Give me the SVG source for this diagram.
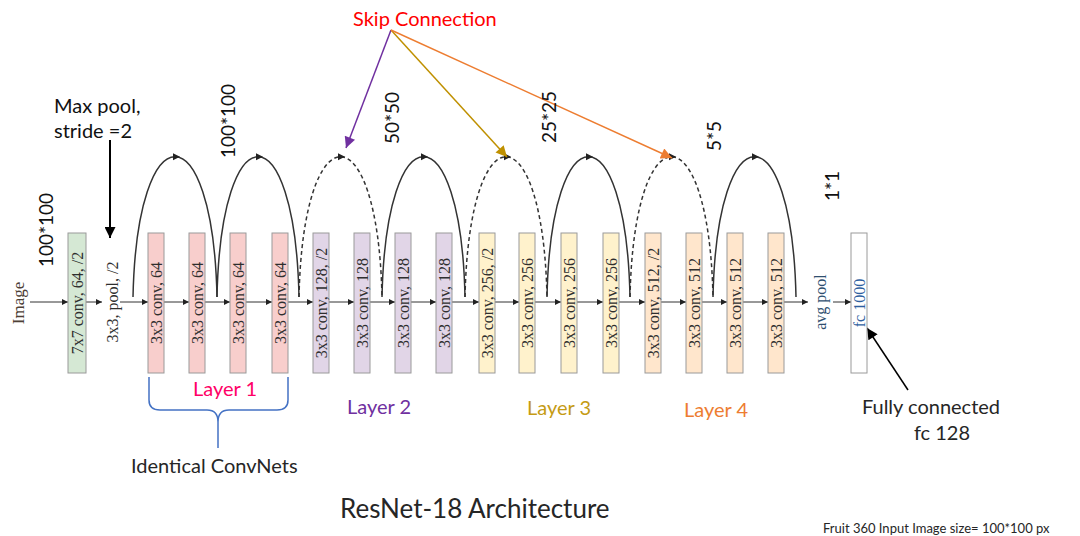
<svg xmlns="http://www.w3.org/2000/svg" width="1080" height="536" viewBox="0 0 1080 536">
<style>
.box{stroke:#9a9a9a;stroke-width:1}
.g{fill:#d5e8d4}.p{fill:#f8cecc}.u{fill:#e1d5e7}.y{fill:#fff2cc}.o{fill:#ffe6cc}.w{fill:#ffffff}
.bl{font-family:"Liberation Serif",serif;font-size:16px;fill:#2e2e2e;text-anchor:middle;dominant-baseline:central}
.sans{font-family:Lato,"Open Sans",sans-serif}
.dim{font-family:Lato,"Open Sans",sans-serif;font-size:19px;fill:#111;text-anchor:middle;dominant-baseline:central}
.flow{stroke:#333;stroke-width:1;fill:none;marker-end:url(#ah)}
.arc{stroke:#333;stroke-width:1.5;fill:none}
.dash{stroke-dasharray:4 3}
.tip{fill:#222}
</style>
<defs>
<marker id="ah" viewBox="0 0 10 10" refX="10" refY="5" markerWidth="7" markerHeight="6" markerUnits="userSpaceOnUse" orient="auto"><path d="M0,0 L10,5 L0,10 z" fill="#222"/></marker>
<marker id="ahK" viewBox="0 0 10 10" refX="10" refY="5" markerWidth="12" markerHeight="11" markerUnits="userSpaceOnUse" orient="auto"><path d="M0,0 L10,5 L0,10 z" fill="#000"/></marker>
<marker id="ahP" viewBox="0 0 10 10" refX="10" refY="5" markerWidth="12" markerHeight="11" markerUnits="userSpaceOnUse" orient="auto"><path d="M0,0 L10,5 L0,10 z" fill="#7030a0"/></marker>
<marker id="ahY" viewBox="0 0 10 10" refX="10" refY="5" markerWidth="12" markerHeight="11" markerUnits="userSpaceOnUse" orient="auto"><path d="M0,0 L10,5 L0,10 z" fill="#bf9000"/></marker>
<marker id="ahO" viewBox="0 0 10 10" refX="10" refY="5" markerWidth="12" markerHeight="11" markerUnits="userSpaceOnUse" orient="auto"><path d="M0,0 L10,5 L0,10 z" fill="#ed7d31"/></marker>
</defs>
<rect width="1080" height="536" fill="#ffffff"/>

<g id="connectors">
<path class="flow" d="M30,302 H68"/>
<path class="flow" d="M86,302 H102"/>
<path class="flow" d="M120,302 H148"/>
<path class="flow" d="M164,302 H189"/>
<path class="flow" d="M205,302 H230"/>
<path class="flow" d="M246,302 H272"/>
<path class="flow" d="M288,302 H313"/>
<path class="flow" d="M329,302 H354"/>
<path class="flow" d="M370,302 H395"/>
<path class="flow" d="M411,302 H436"/>
<path class="flow" d="M452,302 H479"/>
<path class="flow" d="M495,302 H519"/>
<path class="flow" d="M535,302 H561"/>
<path class="flow" d="M577,302 H603"/>
<path class="flow" d="M619,302 H645"/>
<path class="flow" d="M661,302 H686"/>
<path class="flow" d="M702,302 H727"/>
<path class="flow" d="M743,302 H768"/>
<path class="flow" d="M784,302 H808"/>
<path class="flow" d="M833,302 H851"/>

<path class="arc" d="M133,297 C137,110 213,110 217,297"/>
<path class="arc" d="M217,297 C221,110 295,110 299,297"/>
<path class="arc dash" d="M299,297 C303,110 378,110 382,297"/>
<path class="arc" d="M382,297 C386,110 461,110 465,297"/>
<path class="arc dash" d="M465,297 C469,110 543,110 547,297"/>
<path class="arc" d="M547,297 C551,110 626,110 630,297"/>
<path class="arc dash" d="M630,297 C634,110 709,110 713,297"/>
<path class="arc" d="M713,297 C717,110 792,110 796,297"/>

<path class="tip" d="M180,156.8 l-7,-3.5 v7 z"/>
<path class="tip" d="M263,156.8 l-7,-3.5 v7 z"/>
<path class="tip" d="M345,156.8 l-7,-3.5 v7 z"/>
<path class="tip" d="M428,156.8 l-7,-3.5 v7 z"/>
<path class="tip" d="M511,156.8 l-7,-3.5 v7 z"/>
<path class="tip" d="M593,156.8 l-7,-3.5 v7 z"/>
<path class="tip" d="M676,156.8 l-7,-3.5 v7 z"/>
<path class="tip" d="M759,156.8 l-7,-3.5 v7 z"/>

<path d="M391,30 L346,148" stroke="#7030a0" stroke-width="1.5" fill="none" marker-end="url(#ahP)"/>
<path d="M391,30 L507,157" stroke="#bf9000" stroke-width="1.5" fill="none" marker-end="url(#ahY)"/>
<path d="M391,30 L672,158" stroke="#ed7d31" stroke-width="1.5" fill="none" marker-end="url(#ahO)"/>

<path d="M110,140 L110,238" stroke="#000" stroke-width="2" fill="none" marker-end="url(#ahK)"/>
<path d="M908,390 L867,328" stroke="#000" stroke-width="1.5" fill="none" marker-end="url(#ahK)"/>

<path d="M149,377 L149,400 Q149,410 160,410 L207,410 Q218,410 218,422 L218,448 M218,422 Q218,410 229,410 L277,410 Q288,410 288,400 L288,377" stroke="#4472c4" stroke-width="1.5" fill="none"/>
</g>

<g id="image-label"><text class="bl" transform="translate(18,303) rotate(-90)" style="fill:#4d4036;font-size:17px">Image</text></g>

<g id="conv1"><rect class="box g" x="68" y="233" width="18" height="140"/><text class="bl" transform="translate(77,303) rotate(-90)">7x7 conv, 64, /2</text></g>
<g id="pool"><text class="bl" transform="translate(112,302) rotate(-90)">3x3, pool, /2</text></g>

<g id="l1b1"><rect class="box p" x="148" y="233" width="16" height="140"/><text class="bl" transform="translate(156,303) rotate(-90)">3x3 conv, 64</text></g>
<g id="l1b2"><rect class="box p" x="189" y="233" width="16" height="140"/><text class="bl" transform="translate(197,303) rotate(-90)">3x3 conv, 64</text></g>
<g id="l1b3"><rect class="box p" x="230" y="233" width="16" height="140"/><text class="bl" transform="translate(238,303) rotate(-90)">3x3 conv, 64</text></g>
<g id="l1b4"><rect class="box p" x="272" y="233" width="16" height="140"/><text class="bl" transform="translate(280,303) rotate(-90)">3x3 conv, 64</text></g>

<g id="l2b1"><rect class="box u" x="313" y="233" width="16" height="140"/><text class="bl" transform="translate(321,303) rotate(-90)">3x3 conv, 128, /2</text></g>
<g id="l2b2"><rect class="box u" x="354" y="233" width="16" height="140"/><text class="bl" transform="translate(362,303) rotate(-90)">3x3 conv, 128</text></g>
<g id="l2b3"><rect class="box u" x="395" y="233" width="16" height="140"/><text class="bl" transform="translate(403,303) rotate(-90)">3x3 conv, 128</text></g>
<g id="l2b4"><rect class="box u" x="436" y="233" width="16" height="140"/><text class="bl" transform="translate(444,303) rotate(-90)">3x3 conv, 128</text></g>

<g id="l3b1"><rect class="box y" x="479" y="233" width="16" height="140"/><text class="bl" transform="translate(487,303) rotate(-90)">3x3 conv, 256, /2</text></g>
<g id="l3b2"><rect class="box y" x="519" y="233" width="16" height="140"/><text class="bl" transform="translate(527,303) rotate(-90)">3x3 conv, 256</text></g>
<g id="l3b3"><rect class="box y" x="561" y="233" width="16" height="140"/><text class="bl" transform="translate(569,303) rotate(-90)">3x3 conv, 256</text></g>
<g id="l3b4"><rect class="box y" x="603" y="233" width="16" height="140"/><text class="bl" transform="translate(611,303) rotate(-90)">3x3 conv, 256</text></g>

<g id="l4b1"><rect class="box o" x="645" y="233" width="16" height="140"/><text class="bl" transform="translate(653,303) rotate(-90)">3x3 conv, 512, /2</text></g>
<g id="l4b2"><rect class="box o" x="686" y="233" width="16" height="140"/><text class="bl" transform="translate(694,303) rotate(-90)">3x3 conv, 512</text></g>
<g id="l4b3"><rect class="box o" x="727" y="233" width="16" height="140"/><text class="bl" transform="translate(735,303) rotate(-90)">3x3 conv, 512</text></g>
<g id="l4b4"><rect class="box o" x="768" y="233" width="16" height="140"/><text class="bl" transform="translate(776,303) rotate(-90)">3x3 conv, 512</text></g>

<g id="avgpool"><text class="bl" transform="translate(820,302) rotate(-90)" style="fill:#2f4f6f">avg pool</text></g>
<g id="fc"><rect class="box w" x="851" y="233" width="16" height="140"/><text class="bl" transform="translate(859,303) rotate(-90)" style="fill:#2f5f9f">fc 1000</text></g>

<g id="dims">
<text class="dim" transform="translate(45,230) rotate(-90)">100*100</text>
<text class="dim" transform="translate(227,121) rotate(-90)">100*100</text>
<text class="dim" transform="translate(391,118) rotate(-90)">50*50</text>
<text class="dim" transform="translate(548,117) rotate(-90)">25*25</text>
<text class="dim" transform="translate(713,136) rotate(-90)">5*5</text>
<text class="dim" transform="translate(831,186) rotate(-90)">1*1</text>
</g>

<g id="annotations" class="sans">
<text x="54" y="113" font-size="20" fill="#111">Max pool,</text>
<text x="54" y="138" font-size="20" fill="#111">stride =2</text>
<text x="353" y="26" font-size="20" fill="#ff0000">Skip Connection</text>
<text x="193" y="396" font-size="20" fill="#ff0066">Layer 1</text>
<text x="347" y="414" font-size="20" fill="#7030a0">Layer 2</text>
<text x="527" y="415" font-size="20" fill="#c59b14">Layer 3</text>
<text x="684" y="417" font-size="20" fill="#ed7d31">Layer 4</text>
<text x="131" y="473" font-size="20" fill="#262626">Identical ConvNets</text>
<text x="931" y="414" font-size="20" fill="#262626" text-anchor="middle">Fully connected</text>
<text x="942" y="440" font-size="20" fill="#262626" text-anchor="middle">fc 128</text>
<text x="340" y="518" font-size="26" fill="#262626">ResNet-18 Architecture</text>
<text x="823" y="533" font-size="13" fill="#262626">Fruit 360 Input Image size= 100*100 px</text>
</g>
</svg>
